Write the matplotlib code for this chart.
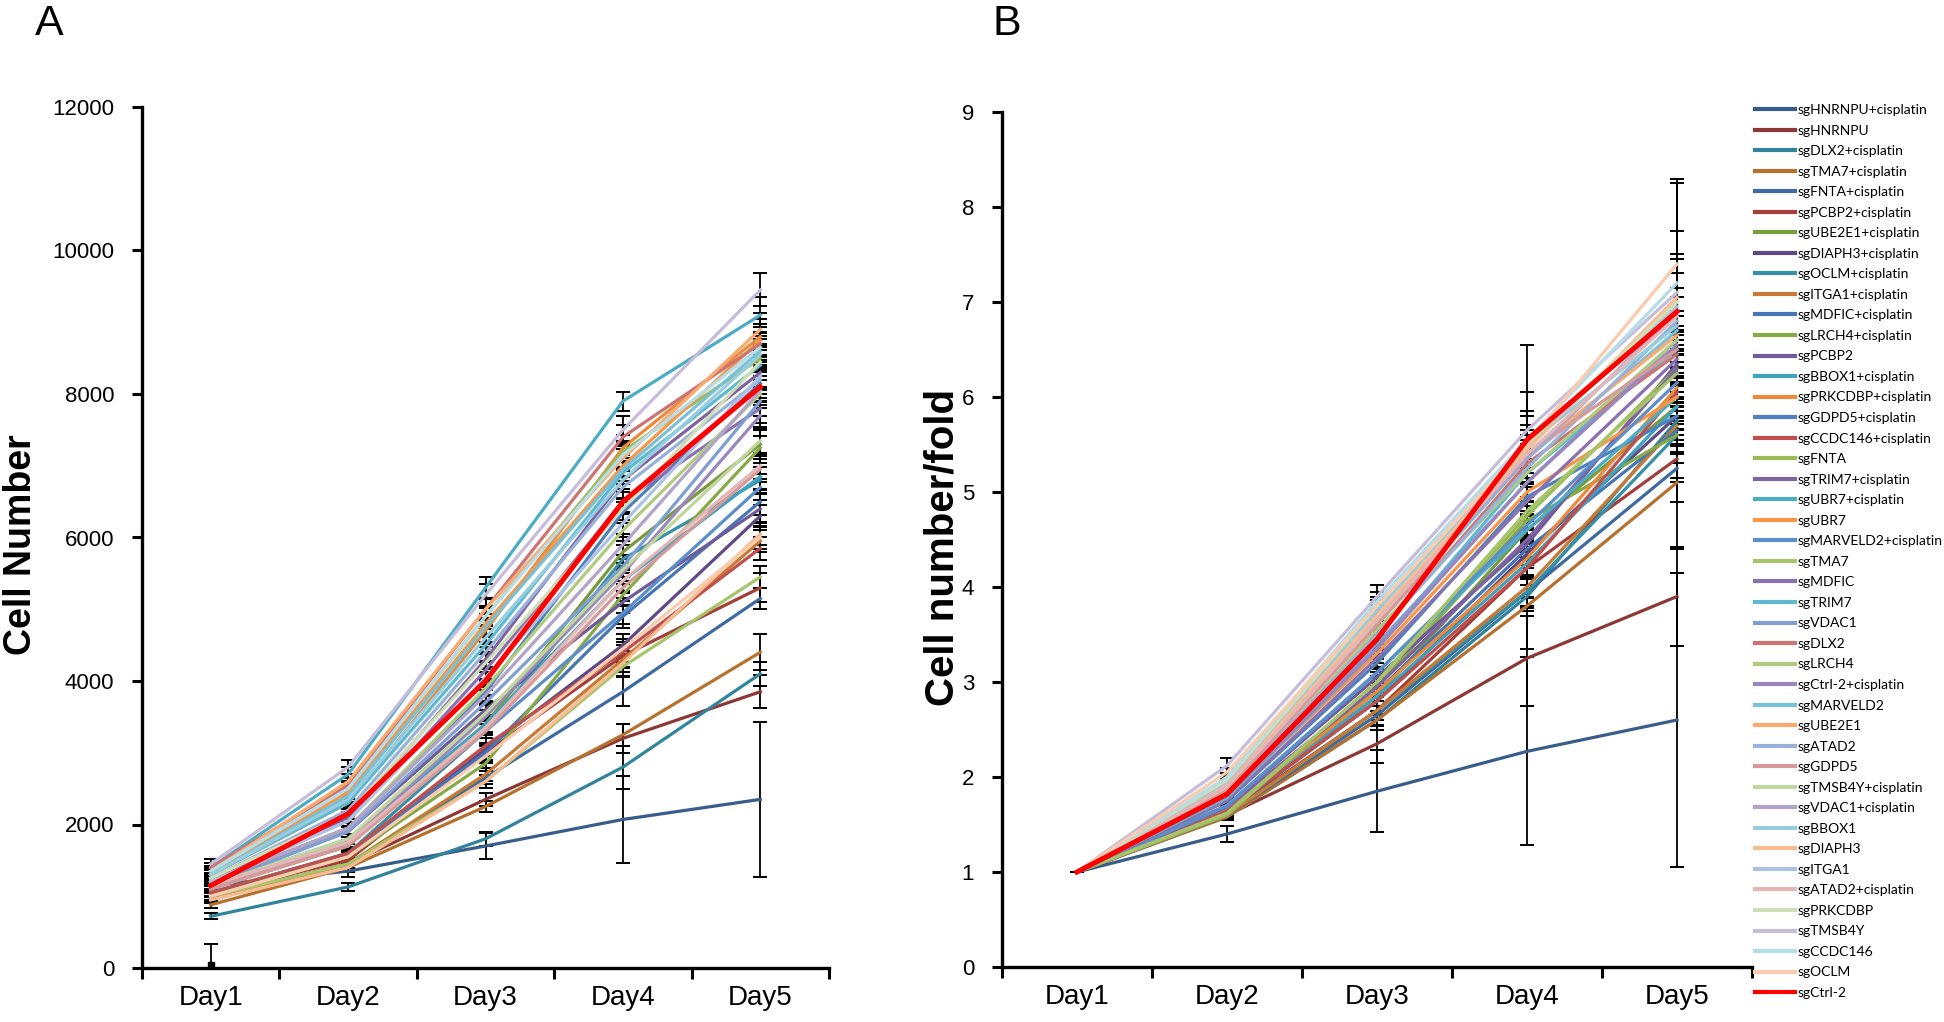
import numpy as np
import matplotlib.pyplot as plt
from matplotlib.lines import Line2D

days = ["Day1", "Day2", "Day3", "Day4", "Day5"]

groups = ["sgHNRNPU+cisplatin", "sgHNRNPU", "sgDLX2+cisplatin", "sgTMA7+cisplatin",
          "sgFNTA+cisplatin", "sgPCBP2+cisplatin", "sgUBE2E1+cisplatin", "sgDIAPH3+cisplatin",
          "sgOCLM+cisplatin", "sgITGA1+cisplatin", "sgMDFIC+cisplatin", "sgLRCH4+cisplatin",
          "sgPCBP2", "sgBBOX1+cisplatin", "sgPRKCDBP+cisplatin", "sgGDPD5+cisplatin",
          "sgCCDC146+cisplatin", "sgFNTA", "sgTRIM7+cisplatin", "sgUBR7+cisplatin", "sgUBR7",
          "sgMARVELD2+cisplatin", "sgTMA7", "sgMDFIC", "sgTRIM7", "sgVDAC1", "sgDLX2",
          "sgLRCH4", "sgCtrl-2+cisplatin", "sgMARVELD2", "sgUBE2E1", "sgATAD2", "sgGDPD5",
          "sgTMSB4Y+cisplatin", "sgVDAC1+cisplatin", "sgBBOX1", "sgDIAPH3", "sgITGA1",
          "sgATAD2+cisplatin", "sgPRKCDBP", "sgTMSB4Y", "sgCCDC146", "sgOCLM", "sgCtrl-2"]

# panel A: cell number
cell_number = [
    [1150, 1350, 1700, 2070, 2350],
    [1000, 1450, 2350, 3200, 3850],
    [720, 1130, 1800, 2800, 4100],
    [880, 1400, 2250, 3250, 4400],
    [950, 1450, 2650, 3850, 5150],
    [1050, 1500, 3000, 4350, 5300],
    [1100, 1700, 3400, 5800, 7300],
    [1000, 1550, 3050, 4500, 6300],
    [1050, 1600, 3300, 5700, 6800],
    [950, 1450, 2700, 4300, 5950],
    [1000, 1600, 3000, 4900, 6500],
    [1000, 1550, 2850, 5200, 7250],
    [1200, 1900, 3600, 5100, 6400],
    [1150, 1800, 3400, 5400, 6850],
    [1300, 2300, 4700, 7250, 8800],
    [1200, 1950, 3850, 6350, 8150],
    [1050, 1600, 3100, 4400, 5850],
    [1350, 2500, 4900, 7200, 8500],
    [1250, 2100, 4300, 6800, 8300],
    [1400, 2700, 5300, 7900, 9100],
    [1300, 2450, 4800, 7000, 8750],
    [1100, 1750, 3300, 4950, 6700],
    [1000, 1450, 2600, 4200, 5450],
    [1250, 2050, 4150, 6500, 7800],
    [1300, 2300, 4500, 6900, 8400],
    [1150, 1900, 3700, 5600, 7900],
    [1400, 2550, 5000, 7400, 8700],
    [1200, 1950, 3900, 6100, 8000],
    [1100, 1750, 3500, 5500, 7700],
    [1300, 2400, 4750, 6950, 8600],
    [1350, 2600, 5000, 7100, 8900],
    [1250, 2200, 4400, 6700, 8200],
    [1100, 1700, 3300, 5300, 6950],
    [1150, 1800, 3550, 5550, 7350],
    [1200, 1950, 3800, 5900, 8050],
    [1300, 2350, 4600, 6800, 8550],
    [950, 1400, 2600, 4250, 6050],
    [1200, 2050, 4050, 6200, 8250],
    [1150, 1750, 3350, 5400, 7000],
    [1250, 2150, 4250, 6400, 8450],
    [1450, 2800, 5200, 7500, 9450],
    [1350, 2500, 4900, 7150, 8650],
    [1000, 1550, 2950, 4450, 6000],
    [1150, 2150, 4000, 6500, 8100],
]
cell_number_err = [
    [60, 80, 185, 600, 1080], [50, 60, 90, 200, 230], [40, 50, 100, 300, 170],
    [50, 60, 80, 150, 250], [40, 50, 90, 200, 150], [50, 60, 100, 150, 200],
    [60, 80, 120, 200, 200], [50, 60, 90, 150, 150], [50, 70, 100, 200, 180],
    [40, 60, 90, 120, 150], [60, 70, 110, 160, 180], [50, 60, 100, 150, 160],
    [60, 80, 120, 150, 200], [60, 70, 110, 170, 190], [70, 90, 150, 180, 250],
    [60, 80, 130, 150, 210], [50, 60, 100, 140, 160], [70, 90, 120, 150, 200],
    [60, 80, 110, 160, 210], [70, 100, 150, 130, 250], [60, 90, 140, 150, 220],
    [50, 70, 100, 160, 180], [50, 60, 90, 130, 150], [60, 80, 120, 170, 200],
    [60, 90, 130, 160, 210], [50, 80, 110, 150, 200], [70, 100, 140, 170, 230],
    [60, 80, 110, 150, 200], [50, 70, 100, 150, 190], [60, 90, 130, 160, 210],
    [70, 100, 150, 180, 230], [60, 80, 120, 160, 200], [50, 70, 100, 150, 180],
    [60, 70, 110, 150, 190], [60, 80, 110, 150, 200], [60, 90, 130, 170, 210],
    [40, 60, 90, 130, 160], [60, 80, 120, 150, 200], [50, 70, 100, 150, 180],
    [60, 80, 120, 150, 200], [70, 100, 150, 200, 230], [60, 90, 130, 170, 210],
    [50, 60, 90, 130, 160], [60, 80, 120, 170, 200],
]
# lone bar near zero at Day1
stray_day1 = 40
stray_day1_err = 290

# panel B: fold change
fold = [
    [1, 1.40, 1.85, 2.27, 2.60],
    [1, 1.60, 2.35, 3.25, 3.90],
    [1, 1.58, 2.60, 3.90, 5.75],
    [1, 1.58, 2.60, 3.80, 5.10],
    [1, 1.60, 2.65, 3.95, 5.25],
    [1, 1.62, 2.70, 4.20, 5.35],
    [1, 1.62, 2.85, 4.60, 5.90],
    [1, 1.63, 2.80, 4.35, 5.80],
    [1, 1.60, 2.70, 3.95, 5.60],
    [1, 1.60, 2.70, 4.00, 5.70],
    [1, 1.65, 2.90, 4.40, 5.65],
    [1, 1.62, 2.95, 4.70, 5.60],
    [1, 1.70, 3.05, 4.45, 6.35],
    [1, 1.65, 2.85, 4.25, 5.90],
    [1, 1.66, 2.90, 4.30, 6.10],
    [1, 1.75, 3.20, 4.95, 5.80],
    [1, 1.64, 2.80, 4.20, 6.05],
    [1, 1.60, 3.00, 4.75, 6.30],
    [1, 1.68, 2.95, 4.50, 6.30],
    [1, 1.70, 3.10, 4.60, 6.00],
    [1, 1.80, 3.30, 5.00, 6.00],
    [1, 1.70, 3.10, 4.65, 6.15],
    [1, 1.62, 3.00, 4.80, 6.25],
    [1, 1.75, 3.25, 4.90, 6.40],
    [1, 1.78, 3.35, 5.20, 6.50],
    [1, 1.80, 3.40, 5.10, 6.60],
    [1, 1.85, 3.50, 5.30, 6.45],
    [1, 1.82, 3.55, 5.20, 6.60],
    [1, 1.80, 3.35, 5.10, 6.55],
    [1, 1.88, 3.60, 5.35, 6.70],
    [1, 1.90, 3.65, 5.40, 6.65],
    [1, 1.85, 3.50, 5.25, 6.80],
    [1, 1.87, 3.60, 5.40, 6.50],
    [1, 1.90, 3.70, 5.45, 7.00],
    [1, 1.92, 3.70, 5.35, 6.90],
    [1, 1.95, 3.75, 5.50, 6.75],
    [1, 1.93, 3.70, 5.45, 7.05],
    [1, 1.95, 3.80, 5.50, 6.95],
    [1, 1.90, 3.65, 5.40, 6.85],
    [1, 1.97, 3.80, 5.50, 7.00],
    [1, 2.12, 3.90, 5.65, 7.10],
    [1, 2.00, 3.85, 5.55, 7.20],
    [1, 2.05, 3.80, 5.50, 7.40],
    [1, 1.82, 3.45, 5.55, 6.90],
]
fold_err = [
    [0, 0.08, 0.43, 0.99, 1.55], [0, 0.03, 0.20, 0.50, 0.52], [0, 0.03, 0.06, 0.12, 0.15],
    [0, 0.03, 0.10, 0.10, 0.20], [0, 0.02, 0.05, 0.15, 0.15], [0, 0.03, 0.10, 0.12, 0.20],
    [0, 0.03, 0.05, 0.10, 0.15], [0, 0.02, 0.05, 0.12, 0.14], [0, 0.03, 0.10, 0.15, 0.12],
    [0, 0.03, 0.05, 0.12, 0.15], [0, 0.02, 0.10, 0.12, 0.15], [0, 0.03, 0.05, 0.15, 0.18],
    [0, 0.03, 0.06, 0.15, 1.95], [0, 0.03, 0.05, 0.12, 0.15], [0, 0.03, 0.06, 0.10, 0.12],
    [0, 0.04, 0.06, 1.60, 0.15], [0, 0.03, 0.05, 0.12, 0.15], [0, 0.03, 0.06, 0.15, 0.18],
    [0, 0.03, 0.05, 0.12, 0.14], [0, 0.03, 0.06, 0.15, 0.15], [0, 0.04, 0.06, 0.15, 0.20],
    [0, 0.03, 0.06, 0.12, 0.15], [0, 0.03, 0.05, 0.10, 0.12], [0, 0.03, 0.05, 0.15, 0.15],
    [0, 0.03, 0.06, 0.12, 0.18], [0, 0.04, 0.06, 0.15, 0.15], [0, 0.04, 0.05, 0.20, 0.20],
    [0, 0.03, 0.06, 0.15, 0.15], [0, 0.03, 0.05, 0.30, 0.30], [0, 0.04, 0.06, 0.20, 0.20],
    [0, 0.04, 0.06, 0.25, 0.20], [0, 0.03, 0.06, 0.20, 0.25], [0, 0.04, 0.06, 0.25, 0.20],
    [0, 0.04, 0.06, 0.35, 0.30], [0, 0.03, 0.06, 0.25, 0.25], [0, 0.04, 0.06, 0.30, 0.30],
    [0, 0.04, 0.06, 0.25, 0.40], [0, 0.03, 0.06, 0.30, 0.35], [0, 0.04, 0.06, 0.25, 0.20],
    [0, 0.03, 0.06, 0.35, 0.30], [0, 0.08, 0.12, 0.40, 0.65], [0, 0.04, 0.10, 0.30, 1.05],
    [0, 0.04, 0.10, 0.30, 0.10], [0, 0.06, 0.10, 0.30, 0.60],
]

colors = ["#385D8A", "#8C3836", "#31849B", "#B7712F", "#3D6AA0", "#A33E3B", "#7A9A3E",
          "#5F4A86", "#3690A8", "#C87A35", "#4676B4", "#86AA45", "#6F5A9A", "#3EA3BE",
          "#EC8A3C", "#4F81BD", "#C0504D", "#9BBB59", "#8064A2", "#4BACC6", "#F79646",
          "#5B8ECB", "#A7C46A", "#8A72B0", "#5DB8D2", "#7F9ED2", "#CD7472", "#B0CB80",
          "#9A88BD", "#79C1D8", "#F9AA70", "#98B1DB", "#D89A98", "#C0D69C", "#B1A3CA",
          "#97CDDF", "#F9BB93", "#ADC2E3", "#E3B7B6", "#CEDFB5", "#C6BDDA", "#B5DDE9",
          "#FBCBAE", "#FF0000"]

plt.rcParams['font.family'] = ['Liberation Sans', 'DejaVu Sans']

W, H = 1944, 1022
fig = plt.figure(figsize=(W / 100, H / 100), dpi=100)
axA = fig.add_axes([142 / W, 1 - 968 / H, (829 - 142) / W, (968 - 107) / H])
axB = fig.add_axes([1002 / W, 1 - 967 / H, 750 / W, (967 - 112) / H])

x = np.arange(1, len(days) + 1)


def draw(ax, vals, errs):
    for i, name in enumerate(groups):
        ctrl = name == "sgCtrl-2"
        lw = 3.6 if ctrl else 2.3
        z = 5 if ctrl else 2
        ax.plot(x, vals[i], color=colors[i], lw=lw, zorder=z, solid_joinstyle='round')
        ax.errorbar(x, vals[i], yerr=errs[i], fmt='none', ecolor='black', elinewidth=1.3,
                    capsize=5, capthick=1.4, zorder=1.5)
    ax.set_xlim(0.5, len(days) + 0.5)
    ax.set_xticks(x)
    ax.set_xticklabels(days, fontsize=20)
    ax.set_xticks(np.arange(0.5, len(days) + 1), minor=True)
    ax.tick_params(axis='x', which='major', length=0, pad=12)
    ax.tick_params(axis='x', which='minor', length=8, width=2.2, direction='out')
    ax.tick_params(axis='y', length=7, width=2.2, direction='out', labelsize=16, pad=13)
    for s in ['top', 'right']:
        ax.spines[s].set_visible(False)
    for s in ['left', 'bottom']:
        ax.spines[s].set_linewidth(2.4)


draw(axA, cell_number, cell_number_err)
axA.errorbar([1], [stray_day1], yerr=[stray_day1_err], fmt='s', color='black', ms=5,
             elinewidth=1.3, capsize=5, capthick=1.4, zorder=3)
axA.set_ylim(0, 12000)
axA.set_yticks(np.arange(0, 12001, 2000))

draw(axB, fold, fold_err)
axB.set_ylim(0, 9)
axB.set_yticks(np.arange(0, 10, 1))

fig.text(21 / W, 1 - 545 / H, "Cell Number", rotation=90, ha='center', va='center',
         fontsize=27, fontweight='bold')
fig.text(942 / W, 1 - 547 / H, "Cell number/fold", rotation=90, ha='center', va='center',
         fontsize=29, fontweight='bold')
fig.text(35 / W, 1 - 4 / H, "A", ha='left', va='top', fontsize=31)
fig.text(992 / W, 1 - 4 / H, "B", ha='left', va='top', fontsize=31)

# legend: first row centred at y=110 px, last at y=993 px (from top)
leg_handles = [Line2D([0], [0], color=colors[i], lw=3) for i in range(len(groups))]
leg_size = 10
first_y, last_y = 110, 993


def make_legend(ls, top):
    return fig.legend(leg_handles, groups, loc='upper left', bbox_to_anchor=(1755 / W, top),
                      frameon=False, prop={'family': 'Lato', 'size': leg_size},
                      handlelength=2.85, handletextpad=0.25, labelspacing=ls,
                      borderpad=0, borderaxespad=0)


def row_centres(leg):
    fig.canvas.draw()
    r = fig.canvas.get_renderer()
    bb = [t.get_window_extent(r) for t in leg.get_texts()]
    return (bb[0].y0 + bb[0].y1) / 2, (bb[-1].y0 + bb[-1].y1) / 2


ls = 0.5
top = 1 - 100 / H
leg = make_legend(ls, top)
c0, c1 = row_centres(leg)
ls += ((last_y - first_y) - (c0 - c1)) / (len(groups) - 1) / (leg_size * 100 / 72)
leg.remove()
leg = make_legend(ls, top)
c0, c1 = row_centres(leg)
top += ((H - first_y) - c0) / H
leg.remove()
leg = make_legend(ls, top)

fig.savefig("out.png", dpi=100)
